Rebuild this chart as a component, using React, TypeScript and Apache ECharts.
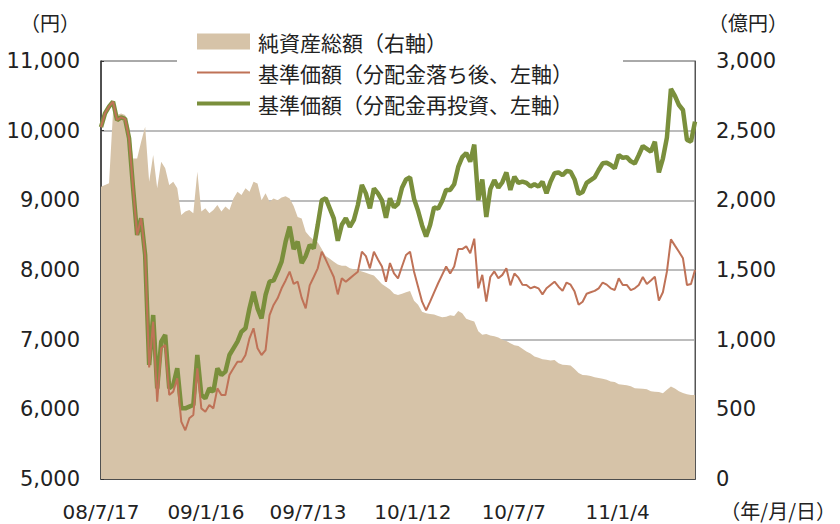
import React, { useEffect, useRef } from "react";
import * as echarts from "echarts";

// Weekly observations starting 2008-07-17 (x = days since start)
const STEP_DAYS = 7;
const X_MAX = 1036;

const tickDays = [0, 183, 361, 544, 720, 901];
const tickLabels = ["08/7/17", "09/1/16", "09/7/13", "10/1/12", "10/7/7", "11/1/4"];

const nameAssets = "純資産総額（右軸）";
const nameAfter = "基準価額（分配金落ち後、左軸）";
const nameReinv = "基準価額（分配金再投資、左軸）";

// 純資産総額 (億円)
const netAssets = [
  2098, 2110, 2122, 2636, 2612, 2624, 2612, 2529, 2301, 2301,
  2421, 2529, 2134, 2325, 2086, 2277, 2230, 2110, 2134, 2086,
  1895, 1919, 1931, 1907, 2206, 1919, 1943, 1907, 1931, 1967,
  1919, 1955, 1931, 2014, 2062, 2038, 2086, 2062, 2134, 2120,
  2000, 2050, 1990, 2014, 2000, 2020, 2030, 2014, 1960, 1880,
  1870, 1775, 1740, 1715, 1700, 1650, 1600, 1580, 1560, 1540,
  1530, 1530, 1512, 1505, 1500, 1490, 1480, 1470, 1460, 1430,
  1400, 1380, 1360, 1330, 1320, 1330, 1340, 1350, 1280, 1250,
  1200, 1190, 1185, 1180, 1170, 1160, 1165, 1175, 1170, 1205,
  1190, 1150, 1140, 1130, 1060, 1035, 1040, 1030, 1025, 1015,
  1000, 990, 975, 960, 955, 935, 915, 900, 880, 870,
  860, 855, 850, 854, 830, 820, 818, 815, 790, 760,
  746, 744, 740, 730, 725, 720, 712, 700, 697, 680,
  676, 672, 665, 652, 650, 648, 645, 630, 627, 624,
  615, 640, 663, 650, 630, 618, 608, 603, 603,
];

// 基準価額（分配金落ち後）(円)
const navAfterDist = [
  10050, 10249, 10344, 10416, 10153, 10190, 10170, 9890, 9172, 8502,
  8742, 8215, 6600, 7258, 6110, 6876, 6924, 6206, 6254, 6445,
  5823, 5700, 5871, 5919, 6589, 6014, 5966, 6062, 6014, 6301,
  6206, 6206, 6493, 6589, 6684, 6684, 6780, 7019, 7163, 6876,
  6780, 6850, 7354, 7498, 7594, 7737, 7850, 7976, 7800, 7832,
  7600, 7450, 7780, 7900, 8024, 8263, 8150, 8024, 7900, 7650,
  7880, 7832, 7880, 7928, 7976, 8263, 8200, 8024, 8263, 8150,
  8050, 7830, 8100, 7950, 7880, 8050, 8215, 8263, 7976, 7760,
  7545, 7420, 7545, 7680, 7810, 7930, 8050, 7950, 8050, 8300,
  8300, 8340, 8240, 8450, 7737, 7930, 7545, 7900, 7980, 7880,
  7930, 8024, 7780, 7950, 7890, 7790, 7785, 7737, 7760, 7737,
  7650, 7737, 7785, 7832, 7760, 7700, 7820, 7790, 7690, 7500,
  7545, 7660, 7680, 7700, 7737, 7820, 7790, 7737, 7713, 7880,
  7785, 7785, 7710, 7737, 7785, 7900, 7800, 7850, 7904, 7560,
  7680, 7976, 8440, 8350, 8263, 8168, 7785, 7800, 8000,
];

// 基準価額（分配金再投資）(円)
const navReinvested = [
  10050, 10249, 10344, 10416, 10153, 10190, 10170, 9890, 9172, 8502,
  8742, 8215, 6636, 7354, 6300, 6972, 7067, 6301, 6349, 6589,
  6014, 6014, 6038, 6062, 6780, 6206, 6158, 6301, 6254, 6589,
  6493, 6541, 6780, 6876, 6972, 7115, 7163, 7450, 7689, 7450,
  7306, 7641, 7832, 7850, 7976, 8120, 8407, 8622, 8300, 8407,
  8100, 8200, 8359, 8311, 8646, 9000, 9029, 8885, 8740, 8420,
  8650, 8742, 8620, 8720, 8933, 9220, 9100, 8885, 9172, 9100,
  9000, 8750, 9029, 8900, 8950, 9180, 9300, 9330, 9020, 8850,
  8640, 8480, 8646, 8900, 8880, 8990, 9150, 9150, 9230, 9480,
  9620, 9680, 9555, 9800, 9000, 9300, 8760, 9160, 9290, 9180,
  9260, 9400, 9150, 9340, 9250, 9268, 9250, 9200, 9230, 9196,
  9268, 9100, 9268, 9388, 9400, 9360, 9420, 9410, 9300, 9090,
  9120, 9250, 9290, 9330, 9436, 9531, 9540, 9507, 9460, 9651,
  9610, 9620, 9560, 9530, 9651, 9780, 9740, 9700, 9842, 9400,
  9600, 9900, 10600, 10500, 10368, 10297, 9866, 9842, 10129,
];

const leftTicks = { min: 5000, max: 11000, interval: 1000 };
const rightTicks = { min: 0, max: 3000, interval: 500 };

const COLOR_AREA = "#d6c3a8";
const COLOR_RED = "#bf7257";
const COLOR_GREEN = "#7a8f3c";
const NUM_FONT = "DejaVu Sans";
const JP_FONT = "'Noto Sans CJK JP', sans-serif";

const toPairs = (arr: number[]) => arr.map((v, i) => [i * STEP_DAYS, v]);
const fmt = (v: number) => v.toLocaleString("en-US");

export default function App() {
  const ref = useRef<HTMLDivElement>(null);

  useEffect(() => {
    if (!ref.current) return;
    const chart = echarts.init(ref.current, null, { renderer: "svg" });
    chart.setOption({
      animation: false,
      backgroundColor: "#ffffff",
      grid: {
        left: 101,
        right: 145,
        top: 61,
        bottom: 45,
        show: true,
        borderColor: "#555555",
        borderWidth: 1,
        backgroundColor: "transparent",
      },
      legend: {
        orient: "vertical",
        left: 177,
        top: 21,
        padding: [10, 50, 10, 20],
        backgroundColor: "#ffffff",
        itemWidth: 53,
        itemHeight: 16,
        itemGap: 10,
        symbolKeepAspect: true,
        textStyle: {
          fontFamily: JP_FONT,
          fontSize: 21,
          lineHeight: 21,
          color: "#222222",
          padding: [0, 0, 0, 3],
        },
        data: [
          { name: nameAssets, icon: "rect" },
          { name: nameAfter, icon: "path://M0,0 L100,0 L100,4 L0,4 Z" },
          { name: nameReinv, icon: "path://M0,0 L100,0 L100,8 L0,8 Z" },
        ],
      },
      xAxis: {
        type: "value",
        min: 0,
        max: X_MAX,
        axisLine: { show: true, lineStyle: { color: "#4d4d4d", width: 2 } },
        axisTick: {
          show: true,
          inside: true,
          length: 8,
          customValues: tickDays.slice(1),
          lineStyle: { color: "#333333", width: 1 },
        },
        axisLabel: {
          customValues: tickDays,
          formatter: (v: number) => {
            const k = tickDays.indexOf(Math.round(v));
            return k >= 0 ? tickLabels[k] : "";
          },
          margin: 23,
          fontSize: 20,
          fontFamily: NUM_FONT,
          color: "#222222",
        },
        splitLine: { show: false },
      },
      yAxis: [
        {
          type: "value",
          ...leftTicks,
          position: "left",
          axisLine: { show: true, lineStyle: { color: "#333333", width: 1.5 } },
          axisTick: { show: true, inside: true, length: 3, lineStyle: { color: "#333333" } },
          axisLabel: {
            formatter: (v: number) => fmt(v),
            margin: 21,
            fontSize: 21,
            fontFamily: NUM_FONT,
            color: "#222222",
          },
          splitLine: {
            show: true,
            showMinLine: false,
            showMaxLine: false,
            lineStyle: { color: "#a6a6a6", width: 1.5 },
          },
        },
        {
          type: "value",
          ...rightTicks,
          position: "right",
          axisLine: { show: true, lineStyle: { color: "#555555", width: 1 } },
          axisTick: { show: false },
          axisLabel: {
            formatter: (v: number) => fmt(v),
            margin: 21,
            fontSize: 21,
            fontFamily: NUM_FONT,
            color: "#222222",
          },
          splitLine: { show: false },
        },
      ],
      series: [
        {
          name: nameAssets,
          type: "line",
          yAxisIndex: 1,
          data: toPairs(netAssets),
          symbol: "none",
          lineStyle: { width: 0, opacity: 0 },
          itemStyle: { color: COLOR_AREA },
          areaStyle: { color: COLOR_AREA, opacity: 1 },
          z: 1,
        },
        {
          name: nameReinv,
          type: "line",
          yAxisIndex: 0,
          data: toPairs(navReinvested),
          symbol: "none",
          itemStyle: { color: COLOR_GREEN },
          lineStyle: { color: COLOR_GREEN, width: 4.5 },
          z: 3,
        },
        {
          name: nameAfter,
          type: "line",
          yAxisIndex: 0,
          data: toPairs(navAfterDist),
          symbol: "none",
          itemStyle: { color: COLOR_RED },
          lineStyle: { color: COLOR_RED, width: 2 },
          z: 4,
        },
      ],
      graphic: [
        {
          type: "text",
          left: 20,
          top: 12,
          style: { text: "（円）", font: `20px ${JP_FONT}`, fill: "#222222" },
        },
        {
          type: "text",
          left: 708,
          top: 12,
          style: { text: "（億円）", font: `20px ${JP_FONT}`, fill: "#222222" },
        },
        {
          type: "text",
          right: 4,
          top: 500,
          style: { text: "（年/月/日）", font: `20px ${JP_FONT}`, fill: "#222222" },
        },
      ],
    });
    return () => chart.dispose();
  }, []);

  return <div ref={ref} style={{ width: 840, height: 524, position: "absolute", left: 0, top: 0 }} />;
}
